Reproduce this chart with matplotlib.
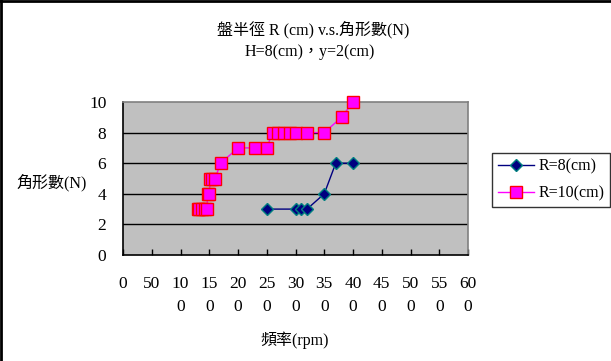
import numpy as np
import matplotlib
matplotlib.use('Agg')
import matplotlib.pyplot as plt
from matplotlib.lines import Line2D

plt.rcParams['font.family'] = ['Liberation Serif', 'Noto Sans CJK TC']

# R=8(cm)
rpm_r8 = [250, 300, 310, 320, 350, 370, 400]
n_r8 = [3, 3, 3, 3, 4, 6, 6]

# R=10(cm)
rpm_r10 = [130, 133, 137, 142, 146, 147, 150, 152, 155, 160, 170, 200, 230, 250,
           260, 270, 280, 290, 300, 320, 350, 380, 400]
n_r10 = [3, 3, 3, 3, 3, 4, 4, 5, 5, 5, 6, 7, 7, 7,
         8, 8, 8, 8, 8, 8, 8, 9, 10]

xticks = list(range(0, 601, 50))
xlabels = ['0', '50'] + [str(v)[:2] + '\n' + str(v)[2:] for v in xticks[2:]]
yticks = [0, 2, 4, 6, 8, 10]

fig = plt.figure(figsize=(6.11, 3.61), dpi=100)
ax = fig.add_axes([123 / 611, 1 - 255 / 361, 345 / 611, 153 / 361])
ax.set_facecolor('#c0c0c0')

ax.plot(rpm_r8, n_r8, color='#000080', lw=1, marker='D', ms=6.5,
        mfc='#000080', mec='#008080', mew=1, zorder=4, clip_on=False)
ax.plot(rpm_r10, n_r10, color='#ff00ff', lw=1, marker='s', ms=8.5,
        mfc='#ff00ff', mec='#ff0000', mew=1, zorder=3, clip_on=False)

ax.set_xlim(0, 600)
ax.set_ylim(0, 10)
ax.set_xticks(xticks)
ax.set_xticklabels(xlabels, linespacing=1.6, va='top')
ax.set_yticks(yticks)
for y in yticks[1:-1]:
    ax.axhline(y, color='black', lw=1, zorder=1)

for s in ['left', 'bottom']:
    ax.spines[s].set_color('black')
    ax.spines[s].set_linewidth(1.2)
for s in ['top', 'right']:
    ax.spines[s].set_color('#808080')
    ax.spines[s].set_linewidth(1.2)

ax.tick_params(axis='x', direction='in', length=4, width=1, labelsize=12.5, pad=15)
ax.tick_params(axis='y', length=0, labelsize=12.5, pad=12)

fig.text(313 / 611, 1 - 30 / 361, '盤半徑 R (cm) v.s.角形數(N)', ha='center', va='center', fontsize=11.5)
fig.text(310 / 611, 1 - 52 / 361, 'H=8(cm)，y=2(cm)', ha='center', va='center', fontsize=11.5)
fig.text(52 / 611, 1 - 183 / 361, '角形數(N)', ha='center', va='center', fontsize=11.5)
fig.text(295 / 611, 1 - 340 / 361, '頻率(rpm)', ha='center', va='center', fontsize=11.5)

handles = [
    Line2D([], [], color='#000080', lw=1, marker='D', ms=6.5, mfc='#000080', mec='#008080'),
    Line2D([], [], color='#ff00ff', lw=1, marker='s', ms=8.5, mfc='#ff00ff', mec='#ff0000'),
]
leg = fig.legend(handles, ['R=8(cm)', 'R=10(cm)'], loc='center',
                 bbox_to_anchor=(551 / 611, 1 - 180 / 361), fontsize=11.5,
                 frameon=True, fancybox=False, edgecolor='black',
                 handlelength=2.3, borderpad=0.35, labelspacing=0.65, handletextpad=0.25)
leg.get_frame().set_linewidth(1)

# outer frame (left and top edges)
fig.add_artist(Line2D([0.0015, 0.0015], [0, 1], color='black', lw=2, transform=fig.transFigure))
fig.add_artist(Line2D([0, 1], [0.997, 0.997], color='black', lw=2, transform=fig.transFigure))

fig.savefig('out.png', dpi=100)
